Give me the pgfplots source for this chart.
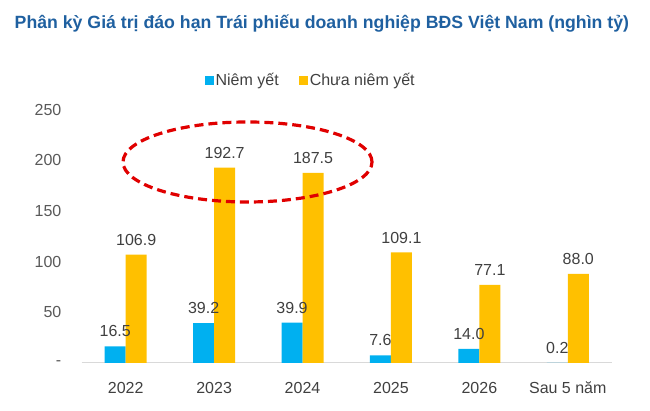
\documentclass[border=0pt]{standalone}
\usepackage{pgfplots}
\pgfplotsset{compat=1.18}
\usepackage{fontspec}
\setmainfont{Liberation Sans}
\definecolor{cblue}{HTML}{00B0F0}
\definecolor{cyel}{HTML}{FFC000}
\definecolor{ctitle}{HTML}{1F60A0}
\definecolor{ctext}{HTML}{595959}
\definecolor{clab}{HTML}{404040}
\definecolor{cred}{HTML}{E00000}
\begin{document}
\begin{tikzpicture}
\path[use as bounding box] (0,0) rectangle (650pt,411pt);
\node[anchor=west, inner sep=0pt, text=ctitle, font=\fontsize{17.7}{21}\selectfont\bfseries] at (14.5pt,387pt) {Phân kỳ Giá trị đáo hạn Trái phiếu doanh nghiệp BĐS Việt Nam (nghìn tỷ)};
\begin{axis}[
  at={(81.5pt,48pt)}, anchor=south west,
  scale only axis, width=530.5pt, height=253.5pt,
  ybar=0pt, bar width=21pt,
  xmin=-0.5, xmax=5.5, ymin=0, ymax=250,
  xtick={0,1,2,3,4,5},
  xticklabels={2022,2023,2024,2025,2026,Sau 5 năm},
  ytick={0,50,100,150,200,250},
  yticklabels={-,50,100,150,200,250},
  major tick length=0pt,
  axis x line*=bottom, axis y line*=left,
  x axis line style={draw={rgb,255:red,217;green,217;blue,217}, line width=1pt, -},
  y axis line style={draw=none},
  xticklabel style={anchor=base, yshift=-31pt, inner sep=0pt, text=clab, font=\fontsize{16}{19}\selectfont},
  yticklabel style={anchor=east, xshift=-20pt, inner sep=0pt, text=ctext, font=\fontsize{16}{19}\selectfont},
  /pgf/number format/assume math mode=true,
  nodes near coords,
  every node near coord/.append style={anchor=south, inner sep=0pt, yshift=9pt, text=clab, font=\fontsize{16}{19}\selectfont,
    /pgf/number format/.cd, fixed, fixed zerofill, precision=1, assume math mode=true},
  legend style={at={(0.432,1.116)}, anchor=center, draw=none, fill=none, legend columns=2,
    font=\fontsize{16}{19}\selectfont, text=clab,
    /tikz/every even column/.append style={column sep=18pt}},
  legend image code/.code={\fill (0pt,-4.5pt) rectangle (9pt,4.5pt);},
]
\addplot[fill=cblue, draw=none] coordinates {(0,16.5) (1,39.2) (2,39.9) (3,7.6) (4,14.0) (5,0.2)};
\addplot[fill=cyel, draw=none] coordinates {(0,106.9) (1,192.7) (2,187.5) (3,109.1) (4,77.1) (5,88.0)};
\legend{Niêm yết, Chưa niêm yết}
\end{axis}
\draw[cred, line width=3.2pt, dash pattern=on 9pt off 5pt] (247.5pt,249pt) ellipse [x radius=124.5pt, y radius=40pt];
\end{tikzpicture}
\end{document}
